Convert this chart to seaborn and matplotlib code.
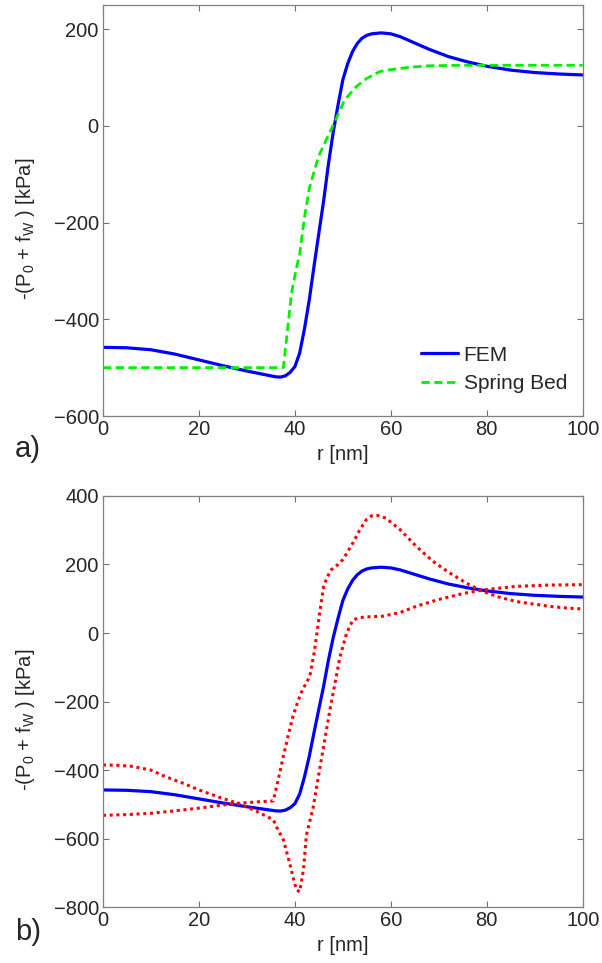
import numpy as np
import pandas as pd
import matplotlib
matplotlib.use("Agg")
import matplotlib.pyplot as plt
import seaborn as sns

# FEM solution (same in both panels)
fem_r = [0, 5, 10, 15, 20, 25, 30, 34, 36, 37, 38, 39, 40, 41, 42, 43, 44, 45,
         46, 47, 48, 49, 50, 51, 52, 53, 54, 55, 56, 58, 60, 62, 65, 68, 72, 76,
         80, 85, 90, 95, 100]
fem_p = [-458, -459, -463, -472, -484, -496, -507, -515, -519, -519.5, -517, -510,
         -498, -470, -420, -360, -290, -222, -155, -79, -13, 43, 95, 128, 153, 170,
         181, 187, 190, 192, 190, 184, 171, 158, 143, 132, 123, 115, 110, 107, 105]

# spring bed model
spring_r = [0, 37.6, 38.5, 39.3, 40.2, 41, 42, 43, 44, 45, 46.5, 48.3, 50.4, 52.8,
            55, 57.7, 60, 64, 68, 75, 100]
spring_p = [-500, -500, -420, -346, -300, -265, -190, -130, -95, -62, -30, 8, 54, 81,
            98, 112, 116, 121, 124, 125, 125]

# bounds (panel b)
lowA_r = [0, 3, 6, 10, 13, 17, 20, 24, 27, 29, 32, 35.5, 36.5, 37.6, 38.9, 40.3, 41,
          41.8, 42.4, 43.8, 45.2, 47.3, 49.4, 50.8, 52.1, 53.5, 55, 58.3, 62, 65.3,
          70, 75, 79.2, 86.1, 93, 100]
lowA_p = [-385, -386, -389, -400, -419, -440, -458, -478, -492, -502, -520, -545,
          -575, -603, -671, -749, -755, -690, -590, -510, -395, -225, -70, 0, 38, 45,
          47, 49, 60, 78, 98, 115, 126, 136, 140, 141]

upB_r = [0, 5, 10, 15, 20, 25, 28, 32, 35.5, 36.5, 37.6, 38.6, 39.6, 40.5, 41.3,
         42.2, 43.1, 44, 44.7, 45.4, 46, 46.8, 47.6, 49, 50, 51, 52.1, 53.5, 54.9,
         56, 57.3, 59, 61.9, 65.3, 68.8, 72.3, 75.7, 79.2, 82.5, 86.1, 90, 93, 96.5, 100]
upB_p = [-532, -530, -526, -519, -511, -502, -497, -493, -490, -430, -360, -300,
         -243, -205, -175, -150, -127, -60, 10, 80, 136, 165, 185, 200, 214, 237, 263,
         300, 331, 342, 343, 335, 302, 253, 209, 175, 146, 121, 105, 92, 84, 78, 73, 70]

sns.set_style("ticks")
plt.rcParams["font.family"] = ["Liberation Sans", "DejaVu Sans"]
plt.rcParams["mathtext.fontset"] = "custom"
plt.rcParams["mathtext.rm"] = "Liberation Sans"
fs = 14.5
plt.rcParams["font.size"] = fs

fem = pd.DataFrame({"r": fem_r, "p": fem_p})
spring = pd.DataFrame({"r": spring_r, "p": spring_p})
lowA = pd.DataFrame({"r": lowA_r, "p": lowA_p})
upB = pd.DataFrame({"r": upB_r, "p": upB_p})

fig = plt.figure(figsize=(6.02, 9.63), dpi=100)
ax1 = fig.add_axes([0.171, 0.568, 0.797, 0.427])
ax2 = fig.add_axes([0.171, 0.058, 0.797, 0.427])

ylab = r"-(P$_\mathregular{0}$ + f$_\mathregular{W}$ ) [kPa]"

sns.lineplot(data=fem, x="r", y="p", ax=ax1, color="#0000ff", lw=2.3,
             sort=False, estimator=None, label="FEM")
sns.lineplot(data=spring, x="r", y="p", ax=ax1, color="#00f000", lw=2.0,
             sort=False, estimator=None, label="Spring Bed", ls=(0, (3, 1.6)))

sns.lineplot(data=fem, x="r", y="p", ax=ax2, color="#0000ff", lw=2.3,
             sort=False, estimator=None)
for d in (lowA, upB):
    sns.lineplot(data=d, x="r", y="p", ax=ax2, color="#ff0000", lw=2.2,
                 sort=False, estimator=None, ls=(0, (1, 1.2)))

for ax, ylim, yt in ((ax1, (-600, 250), [-600, -400, -200, 0, 200]),
                     (ax2, (-800, 400), [-800, -600, -400, -200, 0, 200, 400])):
    ax.set_xlim(0, 100)
    ax.set_ylim(*ylim)
    ax.set_xticks([0, 20, 40, 60, 80, 100])
    ax.set_yticks(yt)
    ax.set_yticklabels([str(v).replace("-", "\u2212") for v in yt])
    ax.tick_params(direction="in", length=4, width=0.8, color="#707070",
                   top=True, right=True, labelsize=fs, pad=3)
    for s in ax.spines.values():
        s.set_color("#808080")
        s.set_linewidth(0.9)
    ax.set_xlabel("r [nm]", fontsize=fs, labelpad=4)
    ax.set_ylabel(ylab, fontsize=fs)
    ax.yaxis.set_label_coords(-0.137, 0.455)

ax1.legend(loc="lower right", bbox_to_anchor=(0.967, 0.056), frameon=False,
           borderpad=0, borderaxespad=0, handlelength=1.8, handletextpad=0.25,
           labelspacing=0.45, fontsize=15)

fig.text(15 / 602, 1 - 457 / 963, "a)", fontsize=21, ha="left", va="baseline")
fig.text(15 / 602, 1 - 940 / 963, "b)", fontsize=21, ha="left", va="baseline")

fig.savefig("out.png", dpi=100)
